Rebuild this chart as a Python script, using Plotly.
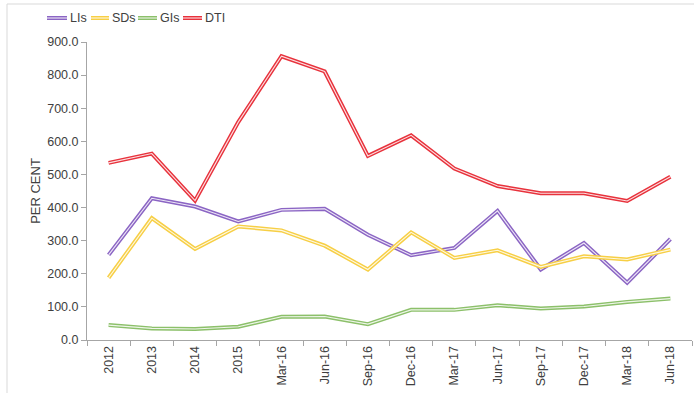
import plotly.graph_objects as go

categories = ["2012", "2013", "2014", "2015", "Mar-16", "Jun-16", "Sep-16", "Dec-16",
              "Mar-17", "Jun-17", "Sep-17", "Dec-17", "Mar-18", "Jun-18"]
lis = [257, 428, 403, 358, 393, 396, 318, 256, 278, 390, 213, 293, 173, 305]
sds = [188, 368, 275, 343, 331, 285, 213, 325, 248, 271, 221, 253, 243, 273]
gis = [45, 35, 33, 40, 70, 71, 48, 91, 91, 105, 95, 101, 115, 125]
dti = [535, 563, 421, 658, 857, 811, 556, 618, 518, 465, 443, 443, 420, 493]

series = [("LIs", lis, "#8b65c4"), ("SDs", sds, "#f7cf45"),
          ("GIs", gis, "#8cc06a"), ("DTI", dti, "#e8323c")]

fig = go.Figure()
for name, vals, col in series:
    fig.add_trace(go.Scatter(x=categories, y=vals, mode="lines", name=name,
                             line=dict(color=col, width=4), showlegend=False,
                             hoverinfo="skip"))
    fig.add_trace(go.Scatter(x=categories, y=vals, mode="lines", name=name,
                             line=dict(color="rgba(255,255,255,0.85)", width=1.1),
                             showlegend=False))

# plot area in pixels: x 87..692, y 42..340
def px_x(p):
    return (p - 87) / 605.0

def px_y(p):
    return (340 - p) / 298.0

shapes = []
annotations = []
# frame
shapes.append(dict(type="line", xref="paper", yref="paper", x0=px_x(7), x1=px_x(7),
                   y0=px_y(4), y1=px_y(400), line=dict(color="#d9d9d9", width=1)))
shapes.append(dict(type="line", xref="paper", yref="paper", x0=px_x(7), x1=px_x(700),
                   y0=px_y(4), y1=px_y(4), line=dict(color="#d9d9d9", width=1)))

legend_pos = [(47, 67), (91, 109), (138, 157), (183, 202)]
ly = px_y(18)
for (name, vals, col), (a, b) in zip(series, legend_pos):
    shapes.append(dict(type="line", xref="paper", yref="paper", x0=px_x(a), x1=px_x(b),
                       y0=ly, y1=ly, line=dict(color=col, width=4)))
    shapes.append(dict(type="line", xref="paper", yref="paper", x0=px_x(a), x1=px_x(b),
                       y0=ly, y1=ly, line=dict(color="rgba(255,255,255,0.85)", width=1.1)))
    annotations.append(dict(text=name, xref="paper", yref="paper", x=px_x(b + 1), y=ly,
                            xanchor="left", yanchor="middle", showarrow=False,
                            font=dict(size=12.5, color="#404040",
                                      family="Liberation Sans, Arial, sans-serif")))

fig.update_layout(
    width=694, height=393,
    margin=dict(l=87, r=2, t=42, b=53),
    paper_bgcolor="white", plot_bgcolor="white",
    font=dict(family="Liberation Sans, Arial, sans-serif", color="#404040", size=12),
    shapes=shapes, annotations=annotations,
    showlegend=False,
)
fig.update_xaxes(type="category", range=[-0.5, 13.5], showline=True, linecolor="#a6a6a6",
                 linewidth=1, ticks="outside", tickson="boundaries", ticklen=5,
                 tickcolor="#a6a6a6", tickangle=-90, showgrid=False, zeroline=False,
                 tickfont=dict(size=12.5, color="#404040"), automargin=False)
fig.update_yaxes(range=[0, 900], dtick=100, tickformat=".1f", showline=True,
                 linecolor="#a6a6a6", linewidth=1, ticks="outside", ticklen=5,
                 tickcolor="#a6a6a6", showgrid=False, zeroline=False,
                 tickfont=dict(size=12.5, color="#404040"), automargin=False,
                 title=dict(text="PER CENT", font=dict(size=13, color="#404040"), standoff=3))

fig.write_html("out.html")
